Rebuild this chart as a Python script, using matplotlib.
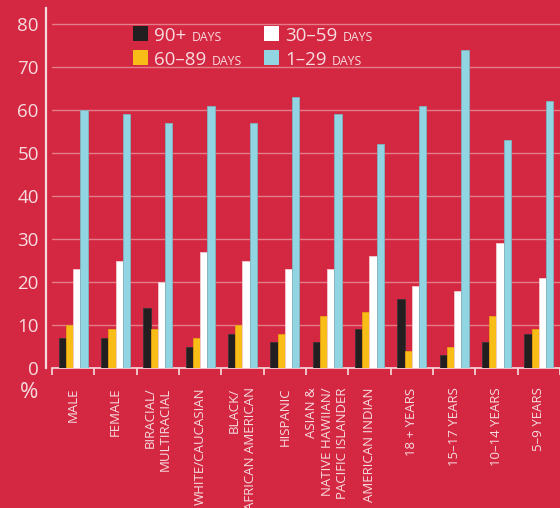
import numpy as np
import matplotlib
matplotlib.use("Agg")
import matplotlib.pyplot as plt
from matplotlib.patches import Rectangle
from matplotlib.transforms import ScaledTranslation
from matplotlib.offsetbox import (AnchoredOffsetbox, HPacker, TextArea,
                                  DrawingArea)

plt.rcParams['font.family'] = ['Open Sans', 'DejaVu Sans']

# data (% of youth)
categories = ["MALE", "FEMALE", "BIRACIAL/\nMULTIRACIAL", "WHITE/CAUCASIAN",
              "BLACK/\nAFRICAN AMERICAN", "HISPANIC",
              "ASIAN &\nNATIVE HAWIIAN/\nPACIFIC ISLANDER", "AMERICAN INDIAN",
              "18 + YEARS", "15\u201317 YEARS", "10\u201314 YEARS",
              "5\u20139 YEARS"]
days_90_plus = [7, 7, 14, 5, 8, 6, 6, 9, 16, 3, 6, 8]
days_60_89 = [10, 9, 9, 7, 10, 8, 12, 13, 4, 5, 12, 9]
days_30_59 = [23, 25, 20, 27, 25, 23, 23, 26, 19, 18, 29, 21]
days_1_29 = [60, 59, 57, 61, 57, 63, 59, 52, 61, 74, 53, 62]

series_big = ["90+", "60\u201389", "30\u201359", "1\u201329"]
series_small = "DAYS"
yticks = [0, 10, 20, 30, 40, 50, 60, 70, 80]

BG = "#D42842"
LIGHT = "#F6DCE0"
GRID = "#E57C89"
colors = ["#231F20", "#F8BD16", "#FFFFFF", "#92D5E2"]
edges = ["#3a3436", "#E8A010", "#F3C9CF", "#7FB3BF"]

fig = plt.figure(figsize=(5.6, 5.08), dpi=100, facecolor=BG)
ax = fig.add_axes([52 / 560, 140 / 508, 508 / 560, 360 / 508])
ax.set_facecolor(BG)

x = np.arange(len(categories)) + 0.5
w = 0.171
all_series = [days_90_plus, days_60_89, days_30_59, days_1_29]
for k, vals in enumerate(all_series):
    ax.bar(x + (k - 1.5) * w, vals, width=w, color=colors[k],
           edgecolor=edges[k], linewidth=0.6, zorder=3)

ax.set_xlim(0, 508 / 42.6)
ax.set_ylim(0, 360 / 4.3)

# y axis
ax.set_yticks(yticks)
ax.yaxis.grid(True, color=GRID, linewidth=1.0)
ax.set_axisbelow(True)
ax.tick_params(axis='y', length=0, pad=5, labelsize=13.5, labelcolor=LIGHT)
offset = ScaledTranslation(0, 0.045, fig.dpi_scale_trans)
for lab in ax.get_yticklabels():
    lab.set_transform(lab.get_transform() + offset)

# x axis: group boundary ticks, labels centred on groups
ax.set_xticks(np.arange(len(categories) + 1))
ax.set_xticklabels([])
ax.set_xticks(x, minor=True)
ax.set_xticklabels(categories, minor=True, rotation=90, va='top',
                   ha='center', multialignment='right', linespacing=1.25)
ax.tick_params(axis='x', which='major', direction='out', length=5,
               width=1.2, color=LIGHT)
ax.tick_params(axis='x', which='minor', length=0, pad=14, labelsize=9.5,
               labelcolor=LIGHT)

for side in ['top', 'right']:
    ax.spines[side].set_visible(False)
ax.spines['left'].set_position(('outward', 4.5))
ax.spines['left'].set_color(LIGHT)
ax.spines['left'].set_linewidth(1.6)
ax.spines['bottom'].set_color(LIGHT)
ax.spines['bottom'].set_linewidth(1.2)

fig.text(29 / 560, 1 - 393 / 508, "%", color=LIGHT, fontsize=16,
         ha='center', va='center')

# legend: big number + small-caps "DAYS"
legend_pos = [(133, 26), (133, 50), (264, 26), (264, 50)]
for k in range(4):
    da = DrawingArea(11, 11, 0, 0)
    da.add_artist(Rectangle((0, 0), 11, 11, facecolor=colors[k],
                            edgecolor='none'))
    big = TextArea(series_big[k], textprops=dict(color=LIGHT, fontsize=13.5))
    small = TextArea(series_small, textprops=dict(color=LIGHT, fontsize=8.8))
    box = HPacker(children=[da, big, small], align="baseline", pad=0, sep=4)
    px, py = legend_pos[k]
    anch = AnchoredOffsetbox(loc='upper left', child=box, pad=0, borderpad=0,
                             frameon=False,
                             bbox_to_anchor=(px / 560, 1 - py / 508),
                             bbox_transform=fig.transFigure)
    fig.add_artist(anch)

fig.savefig("out.png", dpi=100, facecolor=BG)
